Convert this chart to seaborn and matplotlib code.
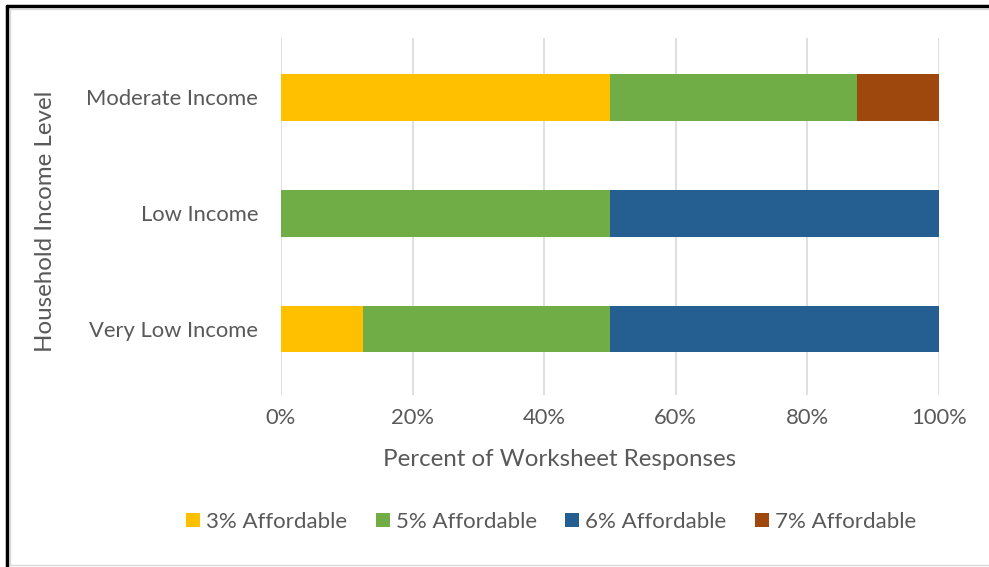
import matplotlib
matplotlib.use("Agg")
import matplotlib.pyplot as plt
import seaborn as sns
import pandas as pd
import numpy as np
from matplotlib.lines import Line2D
from matplotlib.patches import Patch
from matplotlib.ticker import FuncFormatter

categories = ["Moderate Income", "Low Income", "Very Low Income"]
series = ["3% Affordable", "5% Affordable", "6% Affordable", "7% Affordable"]
pct3 = [50.0, 0.0, 12.5]
pct5 = [37.5, 50.0, 37.5]
pct6 = [0.0, 50.0, 50.0]
pct7 = [12.5, 0.0, 0.0]
colors = ["#FFC000", "#70AD47", "#255E91", "#9E480E"]
xticks = [0, 20, 40, 60, 80, 100]

sns.set_theme(style="white")
plt.rcParams["font.family"] = ["Lato", "DejaVu Sans"]
text_color = "#595959"

values = np.array([pct3, pct5, pct6, pct7])
cum = np.cumsum(values, axis=0)

fig = plt.figure(figsize=(9.89, 5.67), dpi=100)
ax = fig.add_axes([281/989, 1-395/567, (939-281)/989, (395-38)/567])

# draw from the largest cumulative total down so that shorter segments overlay
for i in range(len(series)-1, -1, -1):
    df = pd.DataFrame({"cat": categories, "val": cum[i]})
    sns.barplot(data=df, x="val", y="cat", order=categories, color=colors[i],
                orient="h", width=0.405, saturation=1, ax=ax, linewidth=0,
                edgecolor="none")

ax.set_xlim(0, 100)
ax.set_ylim(2.569, -0.509)
ax.set_xticks(xticks)
ax.xaxis.set_major_formatter(FuncFormatter(lambda v, p: f"{int(v)}%"))
ax.grid(axis="x", color="#D9D9D9", linewidth=1.2)
ax.set_axisbelow(True)
for s in ax.spines.values():
    s.set_visible(False)
ax.tick_params(axis="both", length=0, labelsize=15.8, colors=text_color)
ax.tick_params(axis="x", pad=9)
ax.tick_params(axis="y", pad=16.5)

ax.set_xlabel("Percent of Worksheet Responses", fontsize=17.4, color=text_color)
ax.set_ylabel("Household Income Level", fontsize=17.4, color=text_color)
ax.xaxis.set_label_coords((560-281)/658, (395-460)/357)
ax.yaxis.set_label_coords((46-281)/658, (395-221)/357)
ax.xaxis.label.set_va("center")
ax.yaxis.label.set_va("center")

handles = [Patch(facecolor=c, edgecolor="none", label=s) for c, s in zip(colors, series)]
fig.legend(handles=handles, loc="center", bbox_to_anchor=(551/989, 1-522/567), ncol=4,
           frameon=False, fontsize=16, handlelength=0.63, handleheight=0.63,
           handletextpad=0.27, columnspacing=1.28, labelcolor=text_color)

# chart border
fig.add_artist(Line2D([7/989, 7/989], [0, 1-6/567], color="black", linewidth=2.5, transform=fig.transFigure))
fig.add_artist(Line2D([7/989, 1], [1-6/567, 1-6/567], color="black", linewidth=2.5, transform=fig.transFigure))
fig.add_artist(Line2D([10/989, 10/989], [2/567, 1-9/567], color="#D9D9D9", linewidth=1, transform=fig.transFigure))
fig.add_artist(Line2D([10/989, 1], [1-9/567, 1-9/567], color="#D9D9D9", linewidth=1, transform=fig.transFigure))
fig.add_artist(Line2D([10/989, 1], [2/567, 2/567], color="#D9D9D9", linewidth=1, transform=fig.transFigure))

fig.savefig("out.png", dpi=100, facecolor="white")
